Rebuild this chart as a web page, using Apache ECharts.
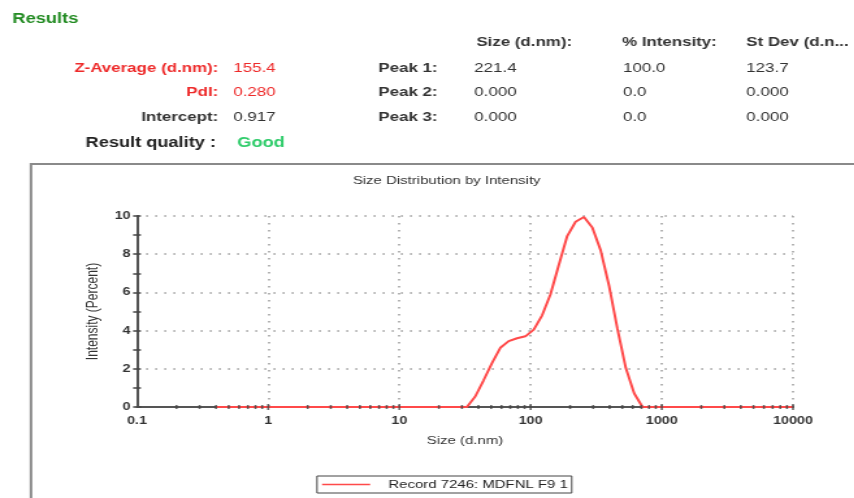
<!DOCTYPE html>
<html>
<head>
<meta charset="utf-8">
<script src="https://cdn.jsdelivr.net/npm/echarts@6/dist/echarts.min.js"></script>
<style>
html,body{margin:0;padding:0;background:#fff;overflow:hidden;}
#c{width:657px;height:498px;transform:scaleX(1.3);transform-origin:0 0;}
</style>
</head>
<body>
<div id="c"></div>
<script>
// Size bins (d.nm) and intensity (%)
const sizes = [0.4,0.4632,0.5365,0.6213,0.7195,0.8332,0.9649,1.117,1.294,1.499,1.736,2.01,2.328,2.696,3.122,3.615,4.187,4.849,5.615,6.503,7.531,8.721,10.1,11.7,13.54,15.69,18.17,21.04,24.36,28.21,32.67,37.84,43.82,50.75,58.77,68.06,78.82,91.28,105.7,122.4,141.8,164.2,190.1,220.2,255.0,295.3,342.0,396.1,458.7,531.2,615.1,712.4,825.0,955.4,1106,1281,1484,1718,1990,2305,2669,3091,3580,4145,4801,5560,6439,7456,8635,10000];
const intensity = [0,0,0,0,0,0,0,0,0,0,0,0,0,0,0,0,0,0,0,0,0,0,0,0,0,0,0,0,0,0,0,0.55,1.4,2.3,3.1,3.45,3.6,3.7,4.05,4.8,5.9,7.45,8.95,9.7,9.95,9.4,8.2,6.35,4.1,2.05,0.72,0,0,0,0,0,0,0,0,0,0,0,0,0,0,0,0,0,0,0];
const seriesName = 'Record 7246: MDFNL F9 1';
const decades = [0.1,1,10,100,1000];
const minorMultipliers = [2,3,4,5,6,7,8,9];
const majorTicks = [1,10,100,1000,10000];
const xTickLabels = {'0.1':'0.1','1':'1','10':'10','100':'100','1000':'1000','10000':'10000'};

// Summary table texts
const summaryLabels = ['Z-Average (d.nm):','PdI:','Intercept:'];
const summaryValues = ['155.4','0.280','0.917'];
const summaryColors = ['#ee2a2a','#ee2a2a','#333333'];
const peakLabels = ['Peak 1:','Peak 2:','Peak 3:'];
const peakHeaders = ['Size (d.nm):','% Intensity:','St Dev (d.n...'];
const peakSize = ['221.4','0.000','0.000'];
const peakIntensity = ['100.0','0.0','0.0'];
const peakStDev = ['123.7','0.000','0.000'];

const minorTicks = [];
decades.forEach(d => minorMultipliers.forEach(m => minorTicks.push(+(d*m).toPrecision(3))));

const S = 1/1.3; // horizontal compensation for scaleX
const rowY = [68, 92.5, 117.5];
const colX = [474.3*S, 623*S, 746.3*S];
const font = '"Liberation Sans", Arial, sans-serif';

const graphics = [];
graphics.push({type:'rect', shape:{x:31*S, y:164, width:800, height:400}, style:{fill:'none', stroke:'#8a8a8a', lineWidth:2}, silent:true});
graphics.push({type:'text', x:12.5*S, y:19.5, style:{text:'Results', fill:'#228b22', font:'bold 14px '+font, textVerticalAlign:'middle'}});
summaryLabels.forEach((t,i)=>{
  graphics.push({type:'text', x:218.3*S, y:rowY[i], style:{text:t, fill:summaryColors[i], font:'bold 13px '+font, textAlign:'right', textVerticalAlign:'middle'}});
  graphics.push({type:'text', x:233.3*S, y:rowY[i], style:{text:summaryValues[i], fill:summaryColors[i], font:'13px '+font, textVerticalAlign:'middle'}});
});
graphics.push({type:'text', x:216*S, y:143, style:{text:'Result quality :', fill:'#222', font:'bold 14px '+font, textAlign:'right', textVerticalAlign:'middle'}});
graphics.push({type:'text', x:237.3*S, y:143, style:{text:'Good', fill:'#2ecc6a', font:'bold 14px '+font, textVerticalAlign:'middle'}});
const headerX = [476.3*S, 622*S, 746.3*S];
peakHeaders.forEach((t,i)=>{
  graphics.push({type:'text', x:headerX[i], y:42.7, style:{text:t, fill:'#333', font:'bold 13px '+font, textVerticalAlign:'middle'}});
});
peakLabels.forEach((t,i)=>{
  graphics.push({type:'text', x:378.3*S, y:rowY[i], style:{text:t, fill:'#333', font:'bold 13px '+font, textVerticalAlign:'middle'}});
  [peakSize, peakIntensity, peakStDev].forEach((arr,j)=>{
    graphics.push({type:'text', x:colX[j], y:rowY[i], style:{text:arr[i], fill:'#333', font:'13px '+font, textVerticalAlign:'middle'}});
  });
});

const chart = echarts.init(document.getElementById('c'));
const axisColor = '#555';
const gridDot = {color:'#9a9a9a', width:1.5, type:[1.5,5.5]};
chart.setOption({
  animation:false,
  backgroundColor:'#fff',
  textStyle:{fontFamily:font},
  title:{text:'Size Distribution by Intensity', left:446.7*S, top:175, padding:0, textAlign:'center',
    textStyle:{fontSize:11.5, fontWeight:'normal', color:'#333'}},
  legend:{data:[{name:seriesName, icon:'rect'}], left:317*S, top:476, orient:'horizontal',
    padding:[2.5,3,2.5,3.9], itemWidth:37, itemHeight:1.6, borderColor:'#444', borderWidth:1,
    itemStyle:{color:'#ff4a4a'},
    textStyle:{fontSize:11.5, color:'#222', padding:[0,0,0,9], lineHeight:12}},
  grid:{left:137*S, right:657-793*S, top:216, bottom:91, containLabel:false},
  xAxis:{type:'log', logBase:10, min:0.1, max:10000,
    name:'Size (d.nm)', nameLocation:'middle', nameGap:28,
    nameTextStyle:{fontSize:11.5, color:'#333'},
    axisLine:{lineStyle:{color:axisColor, width:2}},
    axisTick:{show:false},
    axisLabel:{color:'#333', fontSize:11, fontWeight:'bold', margin:8,
      formatter:v => xTickLabels[String(+v.toPrecision(6))] || String(+v.toPrecision(6))},
    splitLine:{show:true, lineStyle:gridDot}},
  yAxis:[{type:'value', min:0, max:10, interval:2, position:'left',
    name:'Intensity (Percent)', nameLocation:'middle', nameGap:24,
    nameTextStyle:{fontSize:12, color:'#333'},
    axisLine:{show:true, lineStyle:{color:axisColor, width:2}},
    axisTick:{show:true, inside:false, length:3, lineStyle:{color:'#444', width:1.5}},
    minorTick:{show:true, splitNumber:2, length:3, lineStyle:{color:'#444', width:1.5}},
    axisLabel:{color:'#333', fontSize:11, fontWeight:'bold', margin:5},
    splitLine:{show:true, lineStyle:gridDot}},
   {type:'value', min:0, max:10, interval:2, position:'left',
    axisLine:{show:false}, axisLabel:{show:false}, splitLine:{show:false},
    axisTick:{show:true, inside:true, length:3, lineStyle:{color:'#444', width:1.5}},
    minorTick:{show:true, splitNumber:2, length:3, lineStyle:{color:'#444', width:1.5}}}],
  series:[
    {name:seriesName, type:'line', data:sizes.map((s,i)=>[s,intensity[i]]),
      showSymbol:false, symbol:'none', smooth:false, z:3,
      lineStyle:{color:'#ff4a4a', width:2}, itemStyle:{color:'#ff4a4a'}},
    {name:'minorTicks', type:'scatter', data:minorTicks.map(t=>[t,0]), symbol:'rect',
      symbolSize:[1.6,4], itemStyle:{color:'#444'}, z:4, silent:true, clip:false},
    {name:'majorTicks', type:'scatter', data:majorTicks.map(t=>[t,0]), symbol:'rect',
      symbolSize:[1.6,6], itemStyle:{color:'#444'}, z:4, silent:true, clip:false}
  ],
  graphic:graphics
});
</script>
</body>
</html>
